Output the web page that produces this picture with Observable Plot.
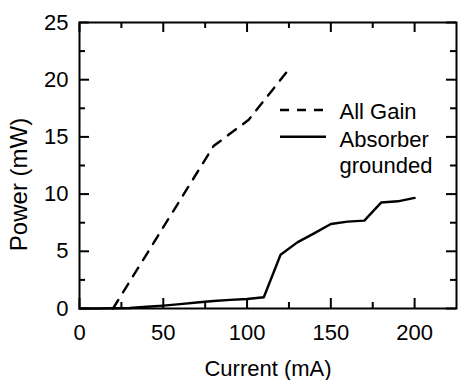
<!DOCTYPE html>
<html>
<head>
<meta charset="utf-8">
<script src="https://cdn.jsdelivr.net/npm/d3@7"></script>
<script src="https://cdn.jsdelivr.net/npm/@observablehq/plot@0.6"></script>
<style>
  html, body { margin: 0; padding: 0; background: #fff; }
</style>
</head>
<body>
<div id="chart"></div>
<script>
// ---- data ----
const allGainCurrent = [20, 80, 101, 126];
const allGainPower   = [0, 14.2, 16.5, 21.1];

const absorberCurrent = [0, 10, 20, 30, 40, 50, 60, 70, 80, 90, 100, 110, 120, 130, 140, 150, 160, 170, 180, 190, 200];
const absorberPower   = [0, 0, 0.02, 0.05, 0.15, 0.25, 0.38, 0.52, 0.65, 0.75, 0.83, 0.98, 4.7, 5.78, 6.57, 7.39, 7.59, 7.68, 9.26, 9.37, 9.67];

const xMajorTicks = [0, 50, 100, 150, 200];
const xMinorTicks = [25, 75, 125, 175];
const yMajorTicks = [0, 5, 10, 15, 20, 25];
const yMinorTicks = [2.5, 7.5, 12.5, 17.5, 22.5];

const xLabel = "Current (mA)";
const yLabel = "Power (mW)";
const seriesNames = ["All Gain", "Absorber", "grounded"];

// ---- layout ----
const W = 458, H = 380;
const mL = 79, mR = 2, mT = 22, mB = 72;
const fw = W - mL - mR, fh = H - mT - mB;
const font = "'Liberation Sans', Arial, Helvetica, sans-serif";

const allGain = allGainCurrent.map((x, i) => ({x, y: allGainPower[i]}));
const absorber = absorberCurrent.map((x, i) => ({x, y: absorberPower[i]}));

const legendSamples = (index, scales, values, dims) => {
  const g = d3.create("svg:g");
  const x1 = dims.marginLeft + 201, x2 = dims.marginLeft + 247;
  g.append("line").attr("x1", x1).attr("x2", x2)
    .attr("y1", dims.marginTop + 88).attr("y2", dims.marginTop + 88)
    .attr("stroke", "black").attr("stroke-width", 2.4).attr("stroke-dasharray", "9,8");
  g.append("line").attr("x1", x1).attr("x2", x2)
    .attr("y1", dims.marginTop + 114.7).attr("y2", dims.marginTop + 114.7)
    .attr("stroke", "black").attr("stroke-width", 2.4);
  return g.node();
};

const chart = Plot.plot({
  width: W,
  height: H,
  marginLeft: mL,
  marginRight: mR,
  marginTop: mT,
  marginBottom: mB,
  style: {fontFamily: font, fontSize: "22px", color: "black", background: "white"},
  x: {domain: [0, 225]},
  y: {domain: [0, 25]},
  marks: [
    Plot.axisX({ticks: xMajorTicks, tickSize: 0, tickPadding: 16, label: null, fontSize: 22}),
    Plot.axisY({ticks: yMajorTicks, tickSize: 0, tickPadding: 11, label: null, fontSize: 22}),
    // inward ticks: bottom & top
    Plot.tickX(xMajorTicks, {x: d => d, insetTop: fh - 10, strokeWidth: 2}),
    Plot.tickX(xMajorTicks, {x: d => d, insetBottom: fh - 10, strokeWidth: 2}),
    Plot.tickX(xMinorTicks, {x: d => d, insetTop: fh - 6, strokeWidth: 2}),
    Plot.tickX(xMinorTicks, {x: d => d, insetBottom: fh - 6, strokeWidth: 2}),
    // inward ticks: left & right
    Plot.tickY(yMajorTicks, {y: d => d, insetRight: fw - 10, strokeWidth: 2}),
    Plot.tickY(yMajorTicks, {y: d => d, insetLeft: fw - 10, strokeWidth: 2}),
    Plot.tickY(yMinorTicks, {y: d => d, insetRight: fw - 6, strokeWidth: 2}),
    Plot.tickY(yMinorTicks, {y: d => d, insetLeft: fw - 6, strokeWidth: 2}),
    // data
    Plot.line(allGain, {x: "x", y: "y", stroke: "black", strokeWidth: 2.4, strokeDasharray: "10,9"}),
    Plot.line(absorber, {x: "x", y: "y", stroke: "black", strokeWidth: 2.4}),
    Plot.frame({stroke: "black", strokeWidth: 2}),
    // axis titles
    Plot.text([xLabel], {frameAnchor: "bottom", text: d => d, dy: 60, textAnchor: "middle", lineAnchor: "middle", fontSize: 22}),
    Plot.text([yLabel], {frameAnchor: "left", text: d => d, dx: -60, dy: 19, rotate: -90, textAnchor: "middle", lineAnchor: "middle", fontSize: 24}),
    // legend
    legendSamples,
    Plot.text([seriesNames[0]], {frameAnchor: "top-left", text: d => d, dx: 260, dy: 89, textAnchor: "start", lineAnchor: "middle", fontSize: 22}),
    Plot.text([seriesNames[1]], {frameAnchor: "top-left", text: d => d, dx: 260, dy: 117, textAnchor: "start", lineAnchor: "middle", fontSize: 22}),
    Plot.text([seriesNames[2]], {frameAnchor: "top-left", text: d => d, dx: 260, dy: 143, textAnchor: "start", lineAnchor: "middle", fontSize: 22})
  ]
});
document.getElementById("chart").appendChild(chart);
</script>
</body>
</html>
